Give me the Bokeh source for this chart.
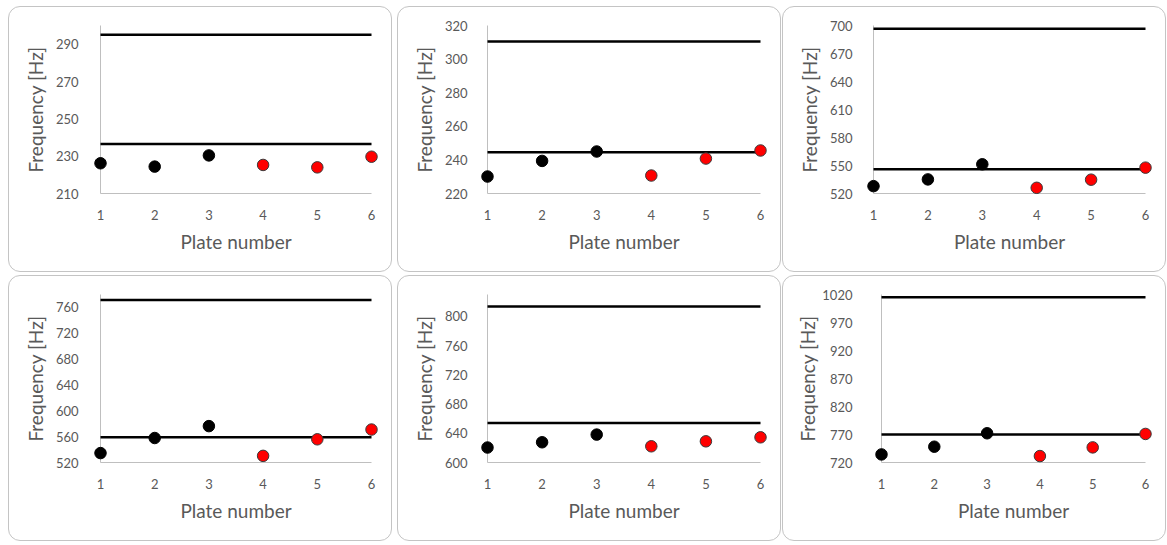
from bokeh.plotting import figure
from bokeh.layouts import column, row
from bokeh.models import Range1d, FixedTicker
from bokeh.embed import file_html
from bokeh.resources import INLINE
import numpy as np

# ---- data ----
plates = [1, 2, 3, 4, 5, 6]

freq_a = [226.2, 224.4, 230.4, 225.3, 224.0, 229.7]
freq_b = [230.1, 239.4, 245.0, 230.7, 240.8, 245.6]
freq_c = [527.9, 535.1, 551.3, 526.1, 534.8, 547.7]
freq_d = [534.6, 557.9, 576.3, 530.3, 555.9, 571.0]
freq_e = [620.5, 627.7, 638.2, 622.2, 629.0, 634.5]
freq_f = [734.4, 748.2, 772.2, 731.5, 747.0, 771.0]

upper_lines = [295.0, 310.5, 696.4, 771.4, 813.6, 1015.2]
lower_lines = [236.5, 244.6, 546.0, 559.1, 654.0, 769.8]

y_min = [210, 220, 520, 520, 600, 720]
y_max = [300, 320, 700, 780, 830, 1020]
y_step = [20, 20, 30, 40, 40, 50]

all_freqs = [freq_a, freq_b, freq_c, freq_d, freq_e, freq_f]

# ---- layout geometry (pixels) ----
W, H = 384, 266
axis_x = [91, 89, 90, 91, 89, 98]   # x=1 position inside panel
x6_px = 362
top_px, bot_px = 18, 186
pad_x, pad_y = 9, 8
label_right = 75
margins = [(6, 0, 0, 8), (6, 0, 0, 5), (6, 0, 0, 1),
           (3, 0, 0, 8), (3, 0, 0, 5), (3, 0, 0, 1)]

FONT = "Lato"
TXT = "#595959"
AXC = "#bfbfbf"

figs = []
for i in range(6):
    ymn, ymx = y_min[i], y_max[i]
    pxu_x = (x6_px - axis_x[i]) / 5.0
    pxu_y = (bot_px - top_px) / float(ymx - ymn)
    dx = pad_x / pxu_x
    dy = pad_y / pxu_y
    frame_left = axis_x[i] - pad_x
    p = figure(width=W, height=H,
               x_range=Range1d(1 - dx, 6 + dx),
               y_range=Range1d(ymn - dy, ymx + dy),
               output_backend="svg", toolbar_location=None,
               min_border_left=frame_left, min_border_right=W - (x6_px + pad_x),
               min_border_top=top_px - pad_y, min_border_bottom=H - (bot_px + pad_y),
               background_fill_color=None, border_fill_color=None,
               margin=margins[i])
    p.outline_line_color = None
    p.grid.visible = False
    p.styles = {"border": "1px solid #c4c4c4", "border-radius": "12px"}

    ticks = list(np.arange(ymn, ymx + 0.01, y_step[i]))
    p.yaxis.ticker = FixedTicker(ticks=ticks)
    p.xaxis.ticker = FixedTicker(ticks=plates)
    for ax in (p.xaxis[0], p.yaxis[0]):
        ax.axis_line_color = None
        ax.major_tick_line_color = None
        ax.minor_tick_line_color = None
        ax.major_label_text_font = FONT
        ax.major_label_text_font_size = "13px"
        ax.major_label_text_color = TXT
        ax.axis_label_text_font = FONT
        ax.axis_label_text_font_size = "19px"
        ax.axis_label_text_font_style = "normal"
        ax.axis_label_text_color = TXT
    p.yaxis.axis_label = "Frequency [Hz]"
    p.xaxis.axis_label = "Plate number"
    p.yaxis.major_label_standoff = frame_left - label_right
    lw = 7.5 * len(str(ymx))
    p.yaxis.axis_label_standoff = int(max(0, label_right - lw - 46))
    p.xaxis.major_label_standoff = 2
    p.xaxis.axis_label_standoff = 7

    # axis lines
    p.line([1, 1], [ymn, ymx], line_color=AXC, line_width=1)
    p.line([1, 6], [ymn, ymn], line_color=AXC, line_width=1)

    # reference lines
    p.line([1, 6], [upper_lines[i]] * 2, line_color="black", line_width=2.5)
    p.line([1, 6], [lower_lines[i]] * 2, line_color="black", line_width=2.5)

    f = all_freqs[i]
    p.scatter(plates[:3], f[:3], size=11.5, fill_color="black", line_color="black")
    p.scatter(plates[3:], f[3:], size=11.5, fill_color="#ff0000", line_color="#3a3a3a",
              line_width=1)
    figs.append(p)

layout = column(row(figs[0], figs[1], figs[2]), row(figs[3], figs[4], figs[5]))

open("out.html", "w").write(file_html(layout, INLINE))
